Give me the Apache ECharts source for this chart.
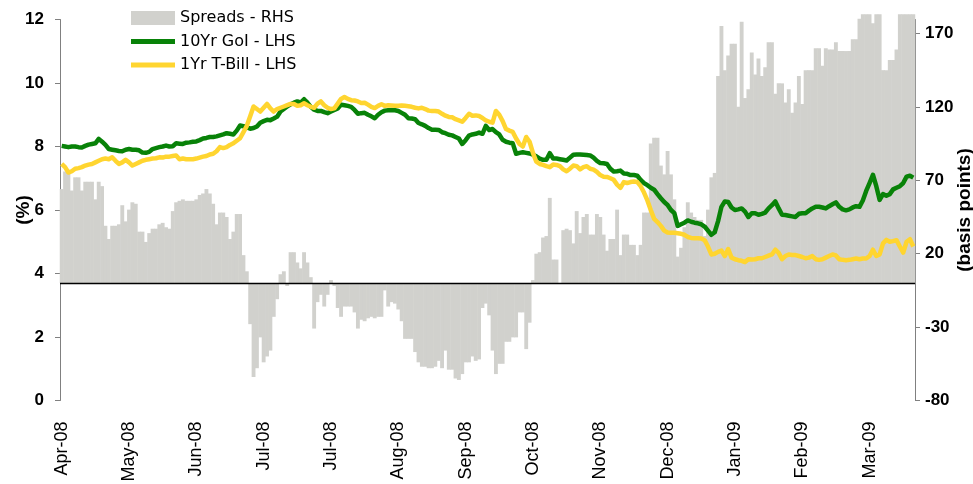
<!DOCTYPE html>
<html>
<head>
<meta charset="utf-8">
<script src="https://cdn.jsdelivr.net/npm/echarts@6/dist/echarts.min.js"></script>
<style>
  html, body { margin: 0; padding: 0; background: #fff; }
  #chart { width: 973px; height: 484px; }
</style>
</head>
<body>
<div id="chart"></div>
<script>
// month tick labels, one every 20 trading days
const monthLabels = ['Apr-08', 'May-08', 'Jun-08', 'Jul-08', 'Jul-08', 'Aug-08', 'Sep-08',
    'Oct-08', 'Nov-08', 'Dec-08', 'Jan-09', 'Feb-09', 'Mar-09'];
const daysPerLabel = 20;

// spread, basis points (RHS) - one row per label interval
const spreads = [
    64, 76, 76, 63, 72, 72, 63, 69, 69, 69, 57, 69, 66, 39, 30, 39, 39, 40, 53, 42,
    50, 55, 54, 35, 35, 28, 34, 37, 37, 40, 41, 38, 37, 49, 55, 56, 57, 56, 56, 56,
    57, 60, 61, 64, 61, 54, 40, 48, 48, 45, 30, 35, 47, 47, 19, 8, -28, -64, -58, -37,
    -54, -50, -46, -23, -11, 6, 8, -2, 21, 21, 14, 10, 21, 14, 4, -31, -13, -8, -16, -8,
    2, -2, -17, -23, -16, -16, -16, -20, -31, -25, -26, -24, -23, -24, -23, -23, -5, -16, -13, -14,
    -18, -26, -38, -38, -38, -47, -54, -57, -57, -58, -58, -57, -53, -58, -46, -59, -59, -65, -66, -62,
    -54, -54, -50, -53, -52, -17, -14, -22, -46, -62, -55, -55, -40, -40, -37, -37, -20, -20, -45, -27,
    2, 20, 21, 31, 32, 58, 16, 16, 0, 36, 37, 36, 27, 49, 34, 45, 47, 33, 33, 47,
    45, 33, 22, 30, 30, 50, 19, 33, 33, 26, 26, 19, 26, 48, 48, 95, 99, 99, 80, 74,
    90, 74, 57, 18, 24, 38, 55, 48, 45, 43, 43, 32, 50, 72, 75, 141, 175, 145, 155, 163,
    163, 120, 178, 126, 132, 157, 142, 153, 141, 147, 164, 164, 129, 136, 136, 123, 132, 116, 123, 141,
    122, 145, 145, 145, 160, 160, 148, 160, 159, 159, 164, 158, 158, 158, 158, 166, 166, 180, 183, 183,
    183, 177, 183, 183, 145, 145, 152, 152, 159, 183, 183, 183, 183, 183
];

// 10Yr GoI yield, % (LHS)
const goi10 = [
    8.02, 8.00, 7.98, 8.00, 8.00, 7.98, 7.97, 8.02, 8.06, 8.08, 8.10, 8.24, 8.15, 8.05, 7.92, 7.90, 7.88, 7.86, 7.85, 7.90,
    7.92, 7.90, 7.90, 7.88, 7.81, 7.80, 7.83, 7.92, 7.95, 7.98, 8.00, 8.03, 8.00, 8.01, 8.10, 8.09, 8.08, 8.12, 8.13, 8.15,
    8.16, 8.20, 8.25, 8.27, 8.30, 8.30, 8.32, 8.35, 8.38, 8.42, 8.40, 8.38, 8.50, 8.66, 8.64, 8.60, 8.56, 8.58, 8.63, 8.75,
    8.80, 8.84, 8.83, 8.88, 8.94, 9.10, 9.18, 9.26, 9.33, 9.38, 9.42, 9.38, 9.49, 9.38, 9.25, 9.16, 9.12, 9.12, 9.08, 9.05,
    9.10, 9.15, 9.20, 9.32, 9.30, 9.28, 9.25, 9.15, 9.03, 9.05, 9.06, 9.00, 8.95, 8.89, 9.00, 9.08, 9.13, 9.14, 9.15, 9.14,
    9.12, 9.06, 9.00, 8.89, 8.88, 8.86, 8.74, 8.70, 8.65, 8.58, 8.53, 8.53, 8.52, 8.45, 8.42, 8.37, 8.35, 8.30, 8.25, 8.08,
    8.20, 8.34, 8.38, 8.40, 8.44, 8.40, 8.65, 8.52, 8.55, 8.45, 8.38, 8.21, 8.15, 8.12, 8.10, 7.77, 7.80, 7.82, 7.80, 7.78,
    7.74, 7.69, 7.62, 7.58, 7.58, 7.79, 7.62, 7.62, 7.60, 7.58, 7.56, 7.65, 7.74, 7.75, 7.75, 7.74, 7.73, 7.72, 7.65, 7.55,
    7.48, 7.47, 7.45, 7.30, 7.21, 7.22, 7.24, 7.15, 7.14, 7.10, 7.10, 7.08, 6.95, 6.85, 6.78, 6.70, 6.64, 6.50, 6.37, 6.25,
    6.16, 6.00, 5.90, 5.50, 5.55, 5.60, 5.67, 5.63, 5.60, 5.58, 5.55, 5.48, 5.35, 5.22, 5.30, 5.65, 6.10, 6.27, 6.25, 6.08,
    6.00, 6.02, 6.05, 5.95, 5.78, 5.90, 5.90, 5.85, 5.88, 5.92, 6.05, 6.15, 6.27, 6.05, 5.85, 5.84, 5.82, 5.80, 5.78, 5.88,
    5.90, 5.90, 5.98, 6.05, 6.10, 6.10, 6.08, 6.05, 6.12, 6.18, 6.24, 6.10, 6.02, 5.99, 6.02, 6.08, 6.12, 6.10, 6.30, 6.60,
    6.85, 7.11, 6.75, 6.32, 6.50, 6.45, 6.50, 6.65, 6.70, 6.75, 6.85, 7.05, 7.08, 7.02
];

// 1Yr T-Bill yield, % (LHS)
const tbill1 = [
    7.45, 7.35, 7.18, 7.22, 7.30, 7.32, 7.35, 7.40, 7.43, 7.45, 7.50, 7.55, 7.60, 7.62, 7.60, 7.66, 7.55, 7.45, 7.50, 7.58,
    7.50, 7.40, 7.45, 7.50, 7.55, 7.58, 7.60, 7.62, 7.63, 7.66, 7.65, 7.68, 7.68, 7.70, 7.72, 7.60, 7.62, 7.60, 7.60, 7.60,
    7.62, 7.65, 7.68, 7.70, 7.75, 7.77, 7.85, 7.98, 7.95, 7.98, 8.05, 8.10, 8.18, 8.26, 8.45, 8.65, 8.95, 9.26, 9.18, 9.10,
    9.22, 9.34, 9.20, 9.10, 9.18, 9.22, 9.26, 9.30, 9.34, 9.34, 9.28, 9.30, 9.36, 9.30, 9.25, 9.22, 9.35, 9.42, 9.30, 9.22,
    9.18, 9.20, 9.35, 9.50, 9.56, 9.50, 9.46, 9.45, 9.42, 9.37, 9.38, 9.32, 9.25, 9.21, 9.28, 9.33, 9.28, 9.30, 9.29, 9.28,
    9.28, 9.29, 9.28, 9.27, 9.25, 9.22, 9.20, 9.22, 9.18, 9.13, 9.12, 9.12, 9.10, 9.03, 8.97, 8.93, 8.92, 8.86, 8.82, 8.78,
    8.90, 9.03, 8.97, 8.98, 8.96, 8.90, 8.82, 8.78, 8.75, 9.12, 9.00, 8.80, 8.55, 8.50, 8.46, 8.25, 8.08, 8.00, 8.30, 8.15,
    7.80, 7.52, 7.45, 7.42, 7.38, 7.35, 7.43, 7.42, 7.38, 7.28, 7.22, 7.30, 7.40, 7.38, 7.28, 7.35, 7.38, 7.30, 7.27, 7.20,
    7.10, 7.05, 7.04, 7.00, 6.95, 6.80, 6.70, 6.88, 6.85, 6.88, 6.90, 6.88, 6.75, 6.55, 6.30, 6.00, 5.72, 5.62, 5.50, 5.35,
    5.29, 5.28, 5.28, 5.27, 5.25, 5.22, 5.15, 5.12, 5.11, 5.11, 5.10, 5.05, 4.85, 4.60, 4.62, 4.68, 4.72, 4.55, 4.77, 4.50,
    4.45, 4.42, 4.40, 4.36, 4.45, 4.44, 4.45, 4.48, 4.48, 4.52, 4.56, 4.60, 4.75, 4.65, 4.45, 4.55, 4.60, 4.58, 4.58, 4.55,
    4.52, 4.48, 4.50, 4.55, 4.45, 4.43, 4.45, 4.50, 4.55, 4.60, 4.57, 4.45, 4.43, 4.42, 4.43, 4.45, 4.47, 4.45, 4.47, 4.47,
    4.55, 4.75, 4.55, 4.60, 4.95, 5.06, 5.00, 5.02, 5.05, 4.85, 4.66, 5.00, 5.08, 4.85
];

// RHS tick values
const rhsTicks = [-80, -30, 20, 70, 120, 170];

const days = spreads.map((v, i) => 'd' + i);

const chart = echarts.init(document.getElementById('chart'));

const axisLabelStyle = {
    color: '#000',
    fontFamily: 'Liberation Sans',
    fontWeight: 'bold',
    fontSize: 17
};

const axisNameStyle = {
    color: '#000',
    fontFamily: 'Liberation Sans',
    fontWeight: 'bold',
    fontSize: 19
};

const lineIcon = 'path://M0,0H44V5H0Z'; // flat line swatch for legend

const option = {
    animation: false,
    backgroundColor: '#fff',
    grid: {
        left: 60,
        right: 58,
        top: 19.5,
        bottom: 83.5,
        containLabel: false,
        outerBoundsMode: 'none'
    },
    legend: {
        orient: 'vertical',
        left: 131,
        top: 10,
        padding: 0,
        itemWidth: 44,
        itemHeight: 14,
        itemGap: 7.5,
        textStyle: {
            color: '#000',
            fontFamily: 'DejaVu Sans',
            fontSize: 16
        },
        data: [
            { name: 'Spreads - RHS', icon: 'rect' },
            { name: '10Yr GoI - LHS', icon: lineIcon },
            { name: '1Yr T-Bill - LHS', icon: lineIcon }
        ]
    },
    xAxis: {
        type: 'category',
        data: days,
        boundaryGap: true,
        axisLine: { show: false },
        axisTick: { show: false },
        splitLine: { show: false },
        axisLabel: {
            interval: daysPerLabel - 1,
            rotate: 90,
            margin: 21,
            color: '#000',
            fontFamily: 'Liberation Sans',
            fontSize: 18,
            formatter: function (value, index) {
                return monthLabels[Math.round(index / daysPerLabel)] || '';
            }
        }
    },
    yAxis: [
        {
            type: 'value',
            min: 0,
            max: 12,
            interval: 2,
            name: '(%)',
            nameLocation: 'middle',
            nameRotate: 90,
            nameGap: 27,
            nameMoveOverlap: false,
            nameTextStyle: axisNameStyle,
            axisLine: { show: true, lineStyle: { color: '#808080', width: 1 } },
            axisTick: { show: true, inside: false, length: 5, lineStyle: { color: '#808080' } },
            splitLine: { show: false },
            axisLabel: Object.assign({ margin: 16 }, axisLabelStyle)
        },
        {
            type: 'value',
            position: 'right',
            min: -80,
            max: 179.5,
            name: '(basis points)',
            nameLocation: 'middle',
            nameRotate: 90,
            nameGap: 40,
            nameMoveOverlap: false,
            nameTextStyle: axisNameStyle,
            axisLine: { show: true, lineStyle: { color: '#808080', width: 1 } },
            axisTick: { show: true, inside: false, length: 5, customValues: rhsTicks, lineStyle: { color: '#808080' } },
            splitLine: { show: false },
            axisLabel: Object.assign({ margin: 10, customValues: rhsTicks }, axisLabelStyle)
        }
    ],
    series: [
        {
            name: 'Spreads - RHS',
            type: 'bar',
            yAxisIndex: 1,
            data: spreads,
            barWidth: '115%', // slight overlap so neighbouring days read as one block
            clip: false,
            itemStyle: { color: '#d1d1cd' },
            markLine: {
                silent: true,
                symbol: ['none', 'none'],
                label: { show: false },
                lineStyle: { color: '#000', width: 1.3, type: 'solid' },
                data: [{ yAxis: 0 }]
            }
        },
        {
            name: '10Yr GoI - LHS',
            type: 'line',
            yAxisIndex: 0,
            data: goi10,
            symbol: 'none',
            lineStyle: { color: '#088208', width: 4.5, join: 'round' },
            itemStyle: { color: '#088208' }
        },
        {
            name: '1Yr T-Bill - LHS',
            type: 'line',
            yAxisIndex: 0,
            data: tbill1,
            symbol: 'none',
            lineStyle: { color: '#ffd530', width: 4.5, join: 'round' },
            itemStyle: { color: '#ffd530' }
        }
    ]
};

chart.setOption(option);
</script>
</body>
</html>
